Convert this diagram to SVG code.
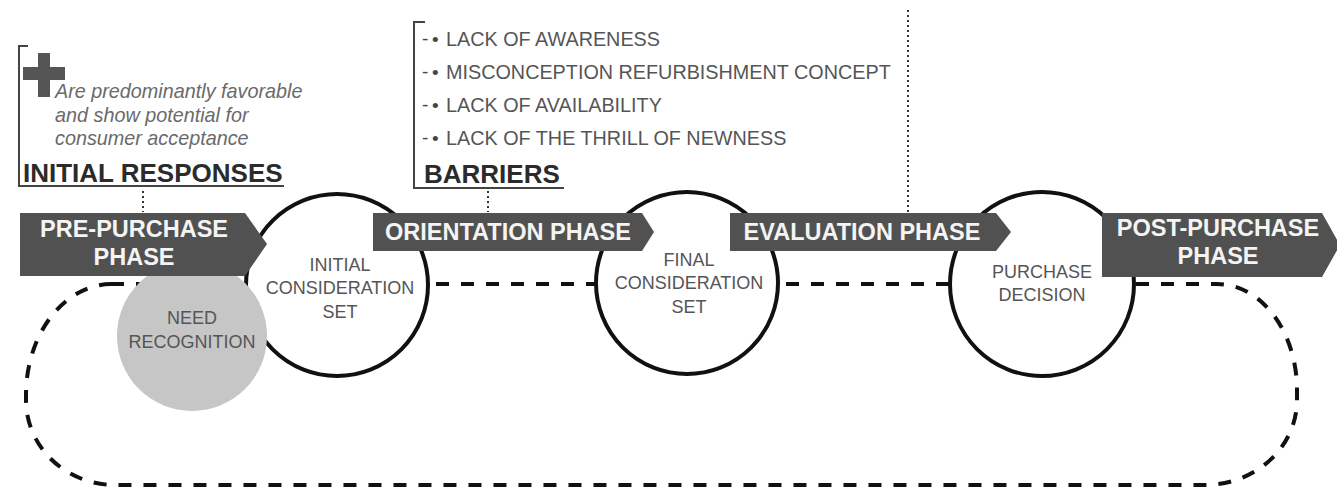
<svg xmlns="http://www.w3.org/2000/svg" width="1337" height="488" viewBox="0 0 1337 488">
<style>
.stage{fill:#fff;stroke:#111;stroke-width:4}
.arrow{fill:#515151}
.atext{font-family:"Liberation Sans",Arial,sans-serif;font-weight:bold;font-size:23.5px;fill:#f4f4f4;text-anchor:middle}
.ctext{font-family:"Liberation Sans",Arial,sans-serif;font-size:18px;fill:#555;text-anchor:middle}
.head{font-family:"Liberation Sans",Arial,sans-serif;font-weight:bold;font-size:26px;fill:#2b2b2b}
.note{font-family:"Liberation Sans",Arial,sans-serif;font-style:italic;font-size:19.8px;fill:#6a6a6a}
.item{font-family:"Liberation Sans",Arial,sans-serif;font-size:19.8px;fill:#555}
.bullet{font-family:"Liberation Sans",Arial,sans-serif;font-size:19px;fill:#444}
.bracket{fill:none;stroke:#444;stroke-width:2}
.dot{fill:none;stroke:#333;stroke-width:2;stroke-dasharray:2 3}
.loop{fill:none;stroke:#111;stroke-width:4;stroke-dasharray:13 12}
</style>

<g id="connectors">
  <path class="loop" d="M 111 284 H 1217 A 80 106 0 0 1 1297 390 V 400 A 92 85 0 0 1 1205 485 H 115 A 89 85 0 0 1 26 400 V 395 A 86 111 0 0 1 111 284 Z"/>
  <line class="dot" x1="143" y1="191" x2="143" y2="212"/>
  <line class="dot" x1="488" y1="191" x2="488" y2="212"/>
  <line class="dot" x1="908" y1="10" x2="908" y2="212"/>
</g>

<g id="initial-consideration-set">
  <circle class="stage" cx="337" cy="285" r="91"/>
  <text class="ctext" x="340" y="271">INITIAL</text>
  <text class="ctext" x="340" y="294">CONSIDERATION</text>
  <text class="ctext" x="340" y="318">SET</text>
</g>

<g id="final-consideration-set">
  <circle class="stage" cx="687" cy="283" r="91"/>
  <text class="ctext" x="689" y="266">FINAL</text>
  <text class="ctext" x="689" y="289">CONSIDERATION</text>
  <text class="ctext" x="689" y="313">SET</text>
</g>

<g id="purchase-decision">
  <circle class="stage" cx="1042" cy="284" r="92"/>
  <text class="ctext" x="1042" y="278">PURCHASE</text>
  <text class="ctext" x="1042" y="301">DECISION</text>
</g>

<g id="need-recognition">
  <circle cx="192" cy="336" r="75" fill="#c6c6c6"/>
  <text class="ctext" x="192" y="324">NEED</text>
  <text class="ctext" x="192" y="348">RECOGNITION</text>
</g>

<g id="pre-purchase-phase">
  <polygon class="arrow" points="20,213 245,213 267,244 245,276 20,276"/>
  <text class="atext" x="134" y="237">PRE-PURCHASE</text>
  <text class="atext" x="134" y="265">PHASE</text>
</g>

<g id="orientation-phase">
  <polygon class="arrow" points="373,213 642,213 654,232 642,251 373,251"/>
  <text class="atext" x="508" y="240">ORIENTATION PHASE</text>
</g>

<g id="evaluation-phase">
  <polygon class="arrow" points="730,213 996,213 1011,232 996,251 730,251"/>
  <text class="atext" x="862" y="240">EVALUATION PHASE</text>
</g>

<g id="post-purchase-phase">
  <polygon class="arrow" points="1102,213 1322,213 1340,245 1322,277 1102,277"/>
  <text class="atext" x="1218" y="236">POST-PURCHASE</text>
  <text class="atext" x="1218" y="264">PHASE</text>
</g>

<g id="initial-responses">
  <path class="bracket" d="M 28 46 H 19 V 186 H 284"/>
  <path d="M 38 53 H 50 V 67 H 65 V 80 H 50 V 97 H 38 V 80 H 23 V 67 H 38 Z" fill="#555"/>
  <text class="note" x="55" y="98">Are predominantly favorable</text>
  <text class="note" x="55" y="121.5">and show potential for</text>
  <text class="note" x="55" y="145">consumer acceptance</text>
  <text class="head" x="23" y="182">INITIAL RESPONSES</text>
</g>

<g id="barriers">
  <path class="bracket" d="M 425 22 H 414 V 188 H 564"/>
  <text class="bullet" x="422" y="45">-</text><text class="bullet" x="432" y="46">•</text>
  <text class="item" x="446" y="46">LACK OF AWARENESS</text>
  <text class="bullet" x="422" y="78">-</text><text class="bullet" x="432" y="79">•</text>
  <text class="item" x="446" y="79">MISCONCEPTION REFURBISHMENT CONCEPT</text>
  <text class="bullet" x="422" y="111">-</text><text class="bullet" x="432" y="112">•</text>
  <text class="item" x="446" y="112">LACK OF AVAILABILITY</text>
  <text class="bullet" x="422" y="144">-</text><text class="bullet" x="432" y="145">•</text>
  <text class="item" x="446" y="145">LACK OF THE THRILL OF NEWNESS</text>
  <text class="head" x="424" y="183">BARRIERS</text>
</g>
</svg>
